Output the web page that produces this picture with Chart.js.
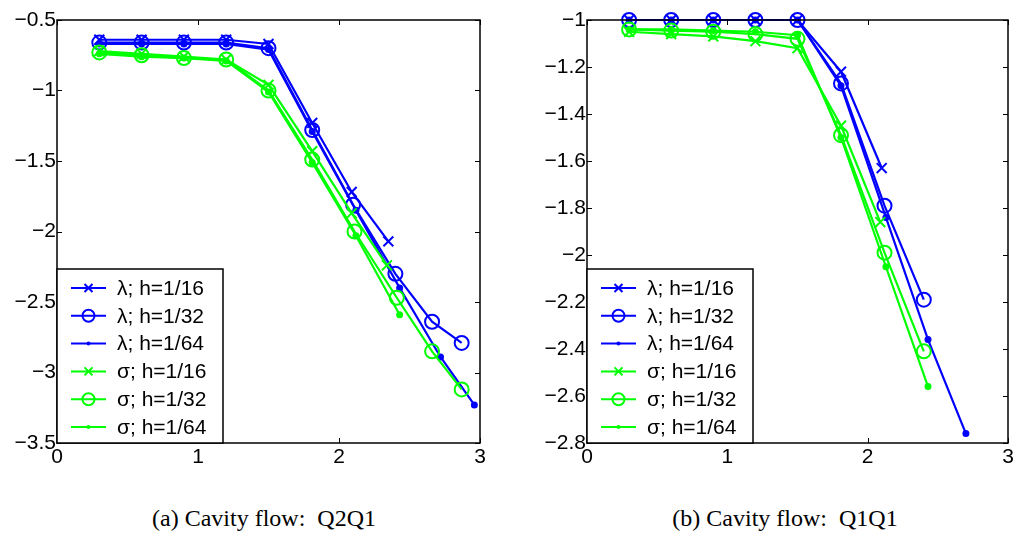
<!DOCTYPE html>
<html>
<head>
<meta charset="utf-8">
<script src="https://cdn.jsdelivr.net/npm/chart.js@4"></script>
<style>
  body { margin: 0; background: #fff; width: 1020px; height: 543px; position: relative; overflow: hidden; }
  canvas { position: absolute; top: 0; }
  #cA { left: 0; }
  #cB { left: 510px; }
  .cap { position: absolute; top: 505px; font-family: "Liberation Serif", serif; font-size: 24px; color: #000; white-space: pre; transform: translateX(-50%); }
</style>
</head>
<body>
<canvas id="cA" width="510" height="480"></canvas>
<canvas id="cB" width="510" height="480"></canvas>
<div class="cap" style="left:264px">(a) Cavity flow:  Q2Q1</div>
<div class="cap" style="left:785px">(b) Cavity flow:  Q1Q1</div>
<script>
// legend labels
const labels = ['λ; h=1/16', 'λ; h=1/32', 'λ; h=1/64', 'σ; h=1/16', 'σ; h=1/32', 'σ; h=1/64'];

// (a) Q2Q1
const xA_lam16 = [0.3, 0.6, 0.9, 1.2, 1.5, 1.81, 2.09, 2.35];
const yA_lam16 = [-0.64, -0.64, -0.64, -0.64, -0.67, -1.23, -1.72, -2.07];
const xA_lam32 = [0.3, 0.6, 0.9, 1.2, 1.5, 1.81, 2.1, 2.4, 2.66, 2.87];
const yA_lam32 = [-0.66, -0.66, -0.66, -0.66, -0.7, -1.28, -1.81, -2.3, -2.64, -2.79];
const xA_lam64 = [0.3, 0.6, 0.9, 1.2, 1.5, 1.81, 2.12, 2.43, 2.72, 2.96];
const yA_lam64 = [-0.67, -0.67, -0.67, -0.67, -0.71, -1.29, -1.85, -2.4, -2.89, -3.23];
const xA_sig16 = [0.3, 0.6, 0.9, 1.2, 1.5, 1.81, 2.09, 2.34];
const yA_sig16 = [-0.72, -0.74, -0.76, -0.78, -0.96, -1.43, -1.87, -2.24];
const xA_sig32 = [0.3, 0.6, 0.9, 1.2, 1.5, 1.81, 2.11, 2.41, 2.66, 2.87];
const yA_sig32 = [-0.73, -0.75, -0.77, -0.78, -1.0, -1.49, -2.0, -2.47, -2.85, -3.12];
const xA_sig64 = [0.3, 0.6, 0.9, 1.2, 1.5, 1.81, 2.12, 2.43];
const yA_sig64 = [-0.74, -0.76, -0.77, -0.79, -1.01, -1.51, -2.03, -2.59];

// (b) Q1Q1
const xB_lam16 = [0.3, 0.6, 0.9, 1.2, 1.5, 1.81, 2.1];
const yB_lam16 = [-1, -1, -1, -1, -1, -1.22, -1.63];
const xB_lam32 = [0.3, 0.6, 0.9, 1.2, 1.5, 1.81, 2.12, 2.4];
const yB_lam32 = [-1, -1, -1, -1, -1, -1.27, -1.79, -2.19];
const xB_lam64 = [0.3, 0.6, 0.9, 1.2, 1.5, 1.81, 2.13, 2.43, 2.7];
const yB_lam64 = [-1, -1, -1, -1, -1, -1.28, -1.84, -2.36, -2.76];
const xB_sig16 = [0.3, 0.6, 0.9, 1.2, 1.5, 1.81, 2.09];
const yB_sig16 = [-1.05, -1.06, -1.07, -1.09, -1.12, -1.45, -1.86];
const xB_sig32 = [0.3, 0.6, 0.9, 1.2, 1.5, 1.81, 2.12, 2.4];
const yB_sig32 = [-1.04, -1.045, -1.05, -1.06, -1.08, -1.49, -1.99, -2.41];
const xB_sig64 = [0.3, 0.6, 0.9, 1.2, 1.5, 1.81, 2.13, 2.43];
const yB_sig64 = [-1.04, -1.04, -1.045, -1.05, -1.065, -1.5, -2.05, -2.56];

const xTicks = [0, 1, 2, 3];

const BLUE = '#0000ff', GREEN = '#00ff00';
const markers = ['x', 'o', '.', 'x', 'o', '.'];
const colors = [BLUE, BLUE, BLUE, GREEN, GREEN, GREEN];
const FONT = '"Liberation Sans", Arial, sans-serif';

function zip(xs, ys) {
  return xs.map((x, i) => ({ x: x, y: ys[i] }));
}

function makeSet(i, xs, ys) {
  const c = colors[i], m = markers[i];
  const ds = {
    label: labels[i],
    data: zip(xs, ys),
    borderColor: c,
    borderWidth: 2.2,
    pointBorderColor: c,
    pointBorderWidth: 2,
    showLine: true,
    fill: false,
    tension: 0,
    clip: false,
    order: 6 - i,
    marker: m
  };
  if (m === 'x') {
    ds.pointStyle = 'crossRot'; ds.pointRadius = 7; ds.pointBackgroundColor = c;
  } else if (m === 'o') {
    ds.pointStyle = 'circle'; ds.pointRadius = 7; ds.pointBackgroundColor = 'rgba(0,0,0,0)';
  } else {
    ds.pointStyle = 'circle'; ds.pointRadius = 3.5; ds.pointBorderWidth = 0; ds.pointBackgroundColor = c;
  }
  return ds;
}

function fmt(v) {
  const r = Math.round(v * 10) / 10;
  return String(r).replace('-', '\u2212');
}

// box around the plot with inward ticks on all four sides
const framePlugin = {
  id: 'frame',
  afterDatasetsDraw(chart) {
    const { ctx, chartArea: a, scales } = chart;
    ctx.save();
    ctx.strokeStyle = '#000';
    ctx.lineWidth = 1.5;
    ctx.strokeRect(a.left, a.top, a.right - a.left, a.bottom - a.top);
    ctx.lineWidth = 1;
    ctx.beginPath();
    scales.x.ticks.forEach(t => {
      const px = Math.round(scales.x.getPixelForValue(t.value)) + 0.5;
      ctx.moveTo(px, a.bottom); ctx.lineTo(px, a.bottom - 5);
      ctx.moveTo(px, a.top); ctx.lineTo(px, a.top + 5);
    });
    scales.y.ticks.forEach(t => {
      const py = Math.round(scales.y.getPixelForValue(t.value)) + 0.5;
      ctx.moveTo(a.left, py); ctx.lineTo(a.left + 5, py);
      ctx.moveTo(a.right, py); ctx.lineTo(a.right - 5, py);
    });
    ctx.stroke();
    ctx.restore();
  }
};

// legend drawn inside the bottom left corner, like matlab's
const boxLegend = {
  id: 'boxLegend',
  afterDraw(chart) {
    const { ctx, chartArea: a } = chart;
    const w = 166, rowH = 27.8, h = 174;
    const x0 = a.left, y0 = a.bottom - h;
    ctx.save();
    ctx.fillStyle = '#fff';
    ctx.fillRect(x0, y0, w, h);
    ctx.strokeStyle = '#000';
    ctx.lineWidth = 1.5;
    ctx.strokeRect(x0, y0, w, h);
    ctx.font = '21px ' + FONT;
    ctx.textBaseline = 'middle';
    chart.data.datasets.forEach((ds, i) => {
      const cy = y0 + 19 + i * rowH;
      const c = ds.borderColor;
      ctx.strokeStyle = c;
      ctx.fillStyle = c;
      ctx.lineWidth = 2;
      ctx.beginPath();
      ctx.moveTo(x0 + 14, cy); ctx.lineTo(x0 + 49, cy);
      ctx.stroke();
      const mx = x0 + 31.5;
      ctx.beginPath();
      if (ds.marker === 'x') {
        ctx.moveTo(mx - 4, cy - 4); ctx.lineTo(mx + 4, cy + 4);
        ctx.moveTo(mx - 4, cy + 4); ctx.lineTo(mx + 4, cy - 4);
        ctx.stroke();
      } else if (ds.marker === 'o') {
        ctx.arc(mx, cy, 6, 0, Math.PI * 2);
        ctx.stroke();
      } else {
        ctx.arc(mx, cy, 2, 0, Math.PI * 2);
        ctx.fill();
      }
      ctx.fillStyle = '#000';
      ctx.fillText(ds.label, x0 + 60, cy + 1);
    });
    ctx.restore();
  }
};

function makeChart(id, sets, yMin, yMax, yStep, yAxisW, padRight) {
  return new Chart(document.getElementById(id), {
    type: 'scatter',
    data: { datasets: sets },
    options: {
      responsive: false,
      animation: false,
      devicePixelRatio: 1,
      layout: { padding: { left: 0, top: 20, right: padRight, bottom: 0 } },
      plugins: { legend: { display: false }, tooltip: { enabled: false } },
      scales: {
        x: {
          type: 'linear', min: 0, max: 3,
          afterBuildTicks: s => { s.ticks = xTicks.map(v => ({ value: v })); },
          afterFit: s => { s.height = 37; },
          grid: { display: false, drawTicks: false, tickLength: 0 },
          border: { display: false },
          ticks: { color: '#000', padding: 2, font: { family: FONT, size: 21 } }
        },
        y: {
          type: 'linear', min: yMin, max: yMax,
          afterFit: s => { s.width = yAxisW; },
          grid: { display: false, drawTicks: false, tickLength: 0 },
          border: { display: false },
          ticks: {
            stepSize: yStep, color: '#000', padding: 1,
            font: { family: FONT, size: 21 },
            callback: v => fmt(v)
          }
        }
      }
    },
    plugins: [framePlugin, boxLegend]
  });
}

makeChart('cA', [
  makeSet(0, xA_lam16, yA_lam16),
  makeSet(1, xA_lam32, yA_lam32),
  makeSet(2, xA_lam64, yA_lam64),
  makeSet(3, xA_sig16, yA_sig16),
  makeSet(4, xA_sig32, yA_sig32),
  makeSet(5, xA_sig64, yA_sig64)
], -3.5, -0.5, 0.5, 57, 30);

makeChart('cB', [
  makeSet(0, xB_lam16, yB_lam16),
  makeSet(1, xB_lam32, yB_lam32),
  makeSet(2, xB_lam64, yB_lam64),
  makeSet(3, xB_sig16, yB_sig16),
  makeSet(4, xB_sig32, yB_sig32),
  makeSet(5, xB_sig64, yB_sig64)
], -2.8, -1, 0.2, 77, 12);
</script>
</body>
</html>
